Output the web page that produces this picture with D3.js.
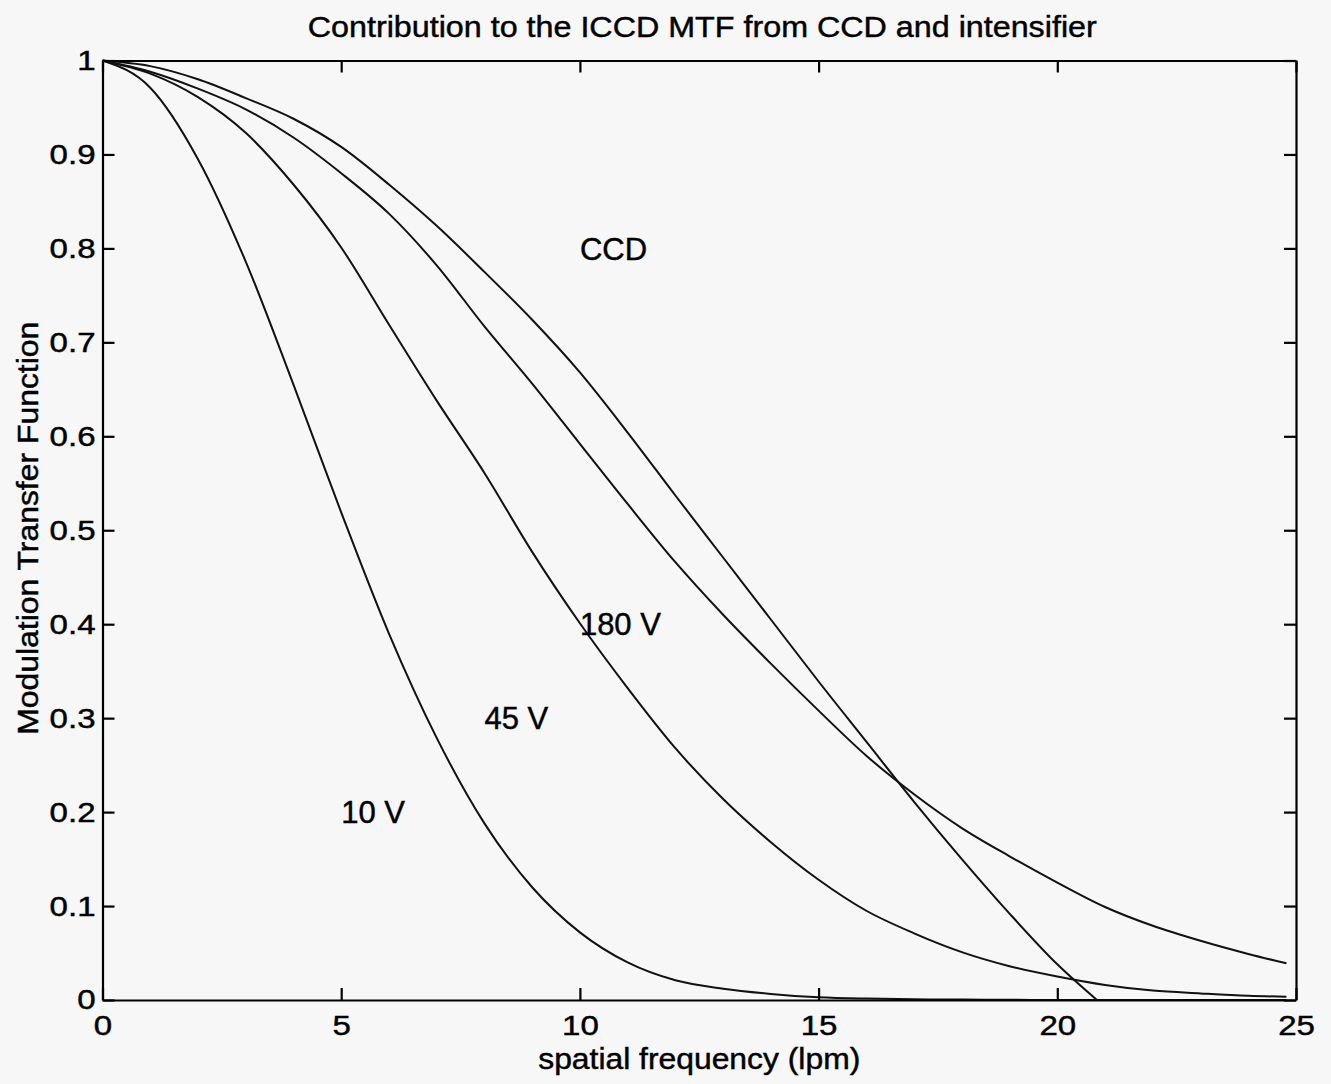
<!DOCTYPE html>
<html>
<head>
<meta charset="utf-8">
<script src="https://cdn.jsdelivr.net/npm/d3@7"></script>
<style>
  body { margin: 0; background: #f7f7f7; }
  svg { display: block; }
  text { font-family: "Liberation Sans", Arial, Helvetica, sans-serif; fill: #000; stroke: #000; stroke-width: 0.45px; }
</style>
</head>
<body>
<svg id="chart" width="1331" height="1084"></svg>
<script>
// ---- data ----
const frequency = [0,1,2,3,4,5,6,7,8,9,10,11,12,13,14,15,16,17,18,19,20,21,22,23,24,24.8];
const mtf10V  = [1.000,0.971,0.895,0.786,0.655,0.519,0.390,0.279,0.188,0.120,0.072,0.040,0.021,0.012,0.0065,0.003,0.0015,0.0008,0.0004,0.0002,0,0,0,0,0,0];
const mtf45V  = [1.000,0.986,0.961,0.923,0.868,0.801,0.719,0.638,0.561,0.477,0.401,0.332,0.268,0.214,0.168,0.128,0.095,0.071,0.051,0.036,0.025,0.016,0.010,0.007,0.0045,0.0035];
const mtf180V = [1.000,0.988,0.970,0.948,0.918,0.880,0.837,0.782,0.717,0.656,0.592,0.528,0.466,0.410,0.358,0.308,0.260,0.219,0.183,0.153,0.125,0.099,0.079,0.063,0.049,0.039];
const ccdFrequency = [0,1,2,3,4,5,6,7,8,9,10,11,12,13,14,15,16,17,18,19,20,20.83];
const mtfCCD  = [1.000,0.994,0.980,0.960,0.938,0.908,0.868,0.824,0.775,0.724,0.668,0.604,0.537,0.471,0.405,0.339,0.275,0.211,0.150,0.092,0.038,0];

const xTicks = [0,5,10,15,20,25];
const yTicks = [0,0.1,0.2,0.3,0.4,0.5,0.6,0.7,0.8,0.9,1];

const labelText = ["CCD","180 V","45 V","10 V"];
const labelFreq = [10, 10, 8, 5];
const labelMtf  = [0.8, 0.4, 0.3, 0.2];

const titleText = "Contribution to the ICCD MTF from CCD and intensifier";
const xTitle = "spatial frequency (lpm)";
const yTitle = "Modulation Transfer Function";

// ---- layout ----
const svg = d3.select("#chart");
const W = 1331, H = 1084;
const plot = {left: 102.5, right: 1296, top: 60.5, bottom: 1000};

svg.append("rect").attr("width", W).attr("height", H).attr("fill", "#f7f7f7");

const x = d3.scaleLinear().domain([0, 25]).range([plot.left, plot.right]);
const y = d3.scaleLinear().domain([0, 1]).range([plot.bottom, plot.top]);

svg.append("clipPath").attr("id", "plotclip")
  .append("rect")
  .attr("x", plot.left).attr("y", plot.top - 2)
  .attr("width", plot.right - plot.left).attr("height", plot.bottom - plot.top + 2);

const series = [
  {name: "10 V",  f: frequency,    v: mtf10V},
  {name: "45 V",  f: frequency,    v: mtf45V},
  {name: "180 V", f: frequency,    v: mtf180V},
  {name: "CCD",   f: ccdFrequency, v: mtfCCD}
];

const line = d3.line()
  .x(d => x(d[0]))
  .y(d => y(d[1]))
  .curve(d3.curveMonotoneX);

const gLines = svg.append("g").attr("clip-path", "url(#plotclip)");
series.forEach(s => {
  const pts = s.f.map((f, i) => [f, s.v[i]]);
  gLines.append("path")
    .datum(pts)
    .attr("d", line)
    .attr("fill", "none")
    .attr("stroke", "#111")
    .attr("stroke-width", 2)
    .attr("stroke-linejoin", "round");
});

// ---- axes (box with inward ticks on all sides) ----
const fmt = d => String(+(+d).toFixed(1));
const tickLen = 12;

function styleAxis(g) {
  g.selectAll(".domain").attr("stroke", "#000").attr("stroke-width", 2.2);
  g.selectAll(".tick line").attr("stroke", "#000").attr("stroke-width", 2.2);
}

const gx = svg.append("g")
  .attr("transform", `translate(0,${plot.bottom})`)
  .call(d3.axisBottom(x).tickValues(xTicks).tickFormat(fmt)
        .tickSizeInner(-tickLen).tickSizeOuter(0).tickPadding(15));
styleAxis(gx);
gx.selectAll(".tick text")
  .attr("font-size", 28)
  .attr("fill", "#000")
  .style("font-family", '"Liberation Sans", Arial, sans-serif')
  .style("transform-box", "fill-box")
  .style("transform-origin", "50% 50%")
  .style("transform", "scaleX(1.18)");

const gy = svg.append("g")
  .attr("transform", `translate(${plot.left},0)`)
  .call(d3.axisLeft(y).tickValues(yTicks).tickFormat(fmt)
        .tickSizeInner(-tickLen).tickSizeOuter(0).tickPadding(7));
styleAxis(gy);
gy.selectAll(".tick text")
  .attr("font-size", 28)
  .attr("fill", "#000")
  .style("font-family", '"Liberation Sans", Arial, sans-serif')
  .style("transform-box", "fill-box")
  .style("transform-origin", "100% 50%")
  .style("transform", "scaleX(1.18)");

const gt = svg.append("g")
  .attr("transform", `translate(0,${plot.top})`)
  .call(d3.axisTop(x).tickValues(xTicks).tickFormat("")
        .tickSizeInner(-tickLen).tickSizeOuter(0));
styleAxis(gt);

const gr = svg.append("g")
  .attr("transform", `translate(${plot.right},0)`)
  .call(d3.axisRight(y).tickValues(yTicks).tickFormat("")
        .tickSizeInner(-tickLen).tickSizeOuter(0));
styleAxis(gr);

// ---- curve labels ----
labelText.forEach((t, i) => {
  svg.append("text")
    .attr("x", x(labelFreq[i]))
    .attr("y", y(labelMtf[i]))
    .attr("dy", "0.36em")
    .attr("font-size", 31)
    .attr("text-anchor", "start")
    .text(t);
});

// ---- titles ----
svg.append("text")
  .attr("x", (plot.left + plot.right) / 2 + 3)
  .attr("y", 37)
  .attr("text-anchor", "middle")
  .attr("font-size", 30)
  .attr("textLength", 789)
  .attr("lengthAdjust", "spacingAndGlyphs")
  .text(titleText);

svg.append("text")
  .attr("x", (plot.left + plot.right) / 2)
  .attr("y", 1069)
  .attr("text-anchor", "middle")
  .attr("font-size", 29)
  .attr("textLength", 322)
  .attr("lengthAdjust", "spacingAndGlyphs")
  .text(xTitle);

svg.append("text")
  .attr("transform", `translate(38,${(plot.top + plot.bottom) / 2 - 2}) rotate(-90)`)
  .attr("text-anchor", "middle")
  .attr("font-size", 29)
  .attr("textLength", 413)
  .attr("lengthAdjust", "spacingAndGlyphs")
  .text(yTitle);
</script>
</body>
</html>
